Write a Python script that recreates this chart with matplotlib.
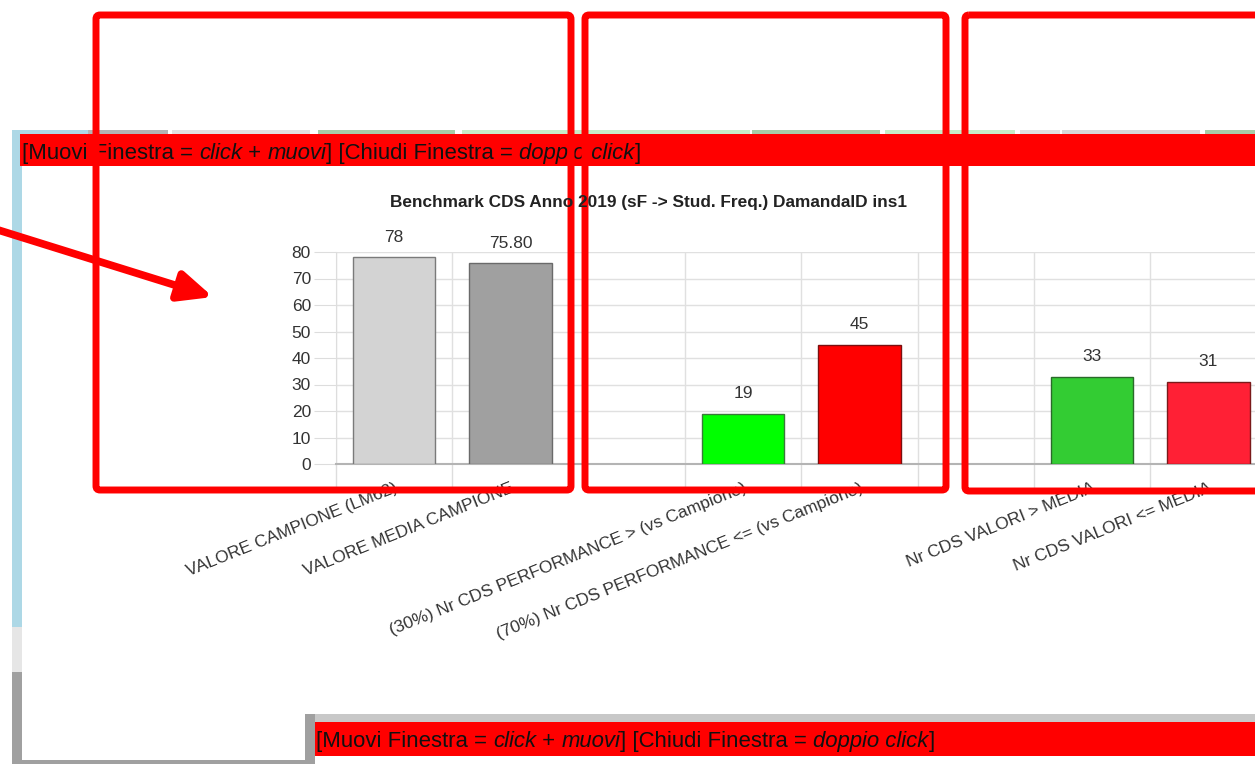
import numpy as np
import matplotlib
matplotlib.use("Agg")
import matplotlib.pyplot as plt
from matplotlib.patches import Rectangle, FancyBboxPatch

plt.rcParams['font.family'] = ['Liberation Sans', 'DejaVu Sans']

# chart data
categories = ["VALORE CAMPIONE (LM62)", "VALORE MEDIA CAMPIONE", "",
              "(30%) Nr CDS PERFORMANCE > (vs Campione)",
              "(70%) Nr CDS PERFORMANCE <= (vs Campione)", "",
              "Nr CDS VALORI > MEDIA", "Nr CDS VALORI <= MEDIA"]
values = [78, 75.80, np.nan, 19, 45, np.nan, 33, 31]
value_labels = ["78", "75.80", "", "19", "45", "", "33", "31"]
bar_colors = ["#d3d3d3", "#a0a0a0", "none", "#00ff00", "#ff0000", "none", "#33cc33", "#ff2035"]
edge_colors = ["#7a7a7a", "#6a6a6a", "none", "#3a7a3a", "#7a1010", "none", "#2a6a2a", "#7a1a1a"]
y_ticks = [0, 10, 20, 30, 40, 50, 60, 70, 80]
title = "Benchmark CDS Anno 2019 (sF -> Stud. Freq.) DamandaID ins1"
header = [("[Muovi Finestra = ", "normal"), ("click", "italic"), (" + ", "normal"),
          ("muovi", "italic"), ("] [Chiudi Finestra = ", "normal"),
          ("doppio click", "italic"), ("]", "normal")]

W, H = 1255, 764
fig = plt.figure(figsize=(W / 100, H / 100), dpi=100)
fig.patch.set_facecolor("white")

# background of the screenshot, in pixel units
bg = fig.add_axes([0, 0, 1, 1], zorder=0)
bg.set_xlim(0, W)
bg.set_ylim(H, 0)
bg.axis("off")

def box(ax, x, y, w, h, c, **kw):
    ax.add_patch(Rectangle((x, y), w, h, facecolor=c, edgecolor="none", **kw))

box(bg, 12, 130, 10, 497, "#add8e6")
box(bg, 12, 627, 10, 45, "#e6e6e6")
box(bg, 12, 672, 10, 92, "#a0a0a0")
box(bg, 22, 760, 283, 4, "#a0a0a0")
# thin strip of the page behind the window header
for x0, x1, c in [(22, 88, "#add8e6"), (88, 168, "#b4b4b4"), (172, 310, "#e2e2e2"),
                  (318, 455, "#a8cca8"), (462, 750, "#c8ecc8"), (752, 880, "#a8cca8"),
                  (885, 1015, "#c8ecc8"), (1020, 1060, "#e0e0e0"), (1062, 1200, "#d8d8d8"),
                  (1205, 1255, "#a8cca8")]:
    box(bg, x0, 130, x1 - x0, 4, c)
box(bg, 20, 134, 1235, 32, "#ff0000")
box(bg, 305, 714, 10, 50, "#a0a0a0")
box(bg, 315, 714, 940, 8, "#c8c8c8")
box(bg, 315, 722, 940, 34, "#ff0000")

renderer = fig.canvas.get_renderer()

def header_text(ax, x, y):
    for piece, st in header:
        t = ax.text(x, y, piece, fontsize=15.9, style=st, color="#111111",
                    va="baseline", ha="left")
        x += t.get_window_extent(renderer).width

header_text(bg, 22, 159)
header_text(bg, 316, 747)

# the chart itself
left, right, top, bottom = 336, 336 + 8 * 116.3, 252, 464
ax = fig.add_axes([left / W, 1 - bottom / H, (right - left) / W, (bottom - top) / H], zorder=1)
ax.patch.set_alpha(0)
x = np.arange(len(categories))
ax.bar(x, values, width=0.71, color=bar_colors, edgecolor=edge_colors, linewidth=1, zorder=3)
for xi, v, lab in zip(x, values, value_labels):
    if lab:
        ax.annotate(lab, (xi, v), xytext=(0, 9), textcoords="offset points",
                    ha="center", va="bottom", fontsize=12.5, color="#333333")
ax.set_xlim(-0.5, len(categories) - 0.5)
ax.set_ylim(0, 80)
ax.set_yticks(y_ticks)
ax.tick_params(axis="y", length=16, color="#dddddd", labelsize=12.5, labelcolor="#333333", pad=2)
ax.set_xticks(x)
ax.set_xticklabels(categories, rotation=22, ha="right", va="top", rotation_mode="anchor",
                   fontsize=12.5, color="#333333")
ax.tick_params(axis="x", which="major", length=0, pad=12)
ax.set_xticks(np.arange(len(categories) + 1) - 0.5, minor=True)
ax.tick_params(axis="x", which="minor", length=18, color="#dddddd", width=1)
ax.grid(axis="y", color="#e0e0e0", linewidth=1, zorder=0)
ax.grid(axis="x", which="minor", color="#e0e0e0", linewidth=1, zorder=0)
for s in ["top", "right"]:
    ax.spines[s].set_visible(False)
ax.spines["left"].set_color("#dddddd")
ax.spines["bottom"].set_color("#b4b4b4")
ax.spines["bottom"].set_linewidth(1.5)
fig.text(649 / W, 1 - 202 / H, title, ha="center", va="center", fontsize=12.4,
         fontweight="bold", color="#222222")

# red annotations drawn on top of the screenshot
ov = fig.add_axes([0, 0, 1, 1], zorder=2)
ov.set_xlim(0, W)
ov.set_ylim(H, 0)
ov.axis("off")
ov.patch.set_alpha(0)
for x0, y0, x1, y1 in [(96, 15, 571, 490), (585, 15, 946, 490), (965, 15, 1275, 491)]:
    ov.add_patch(FancyBboxPatch((x0, y0), x1 - x0, y1 - y0, boxstyle="round,pad=0,rounding_size=4",
                                facecolor="none", edgecolor="#ff0000", linewidth=5))
ov.annotate("", xy=(213, 297), xytext=(-5, 229),
            arrowprops=dict(arrowstyle="-|>,head_length=2.0,head_width=0.9",
                            color="#ff0000", lw=5.5, shrinkA=0, shrinkB=0))

fig.savefig("out.png", dpi=100)
